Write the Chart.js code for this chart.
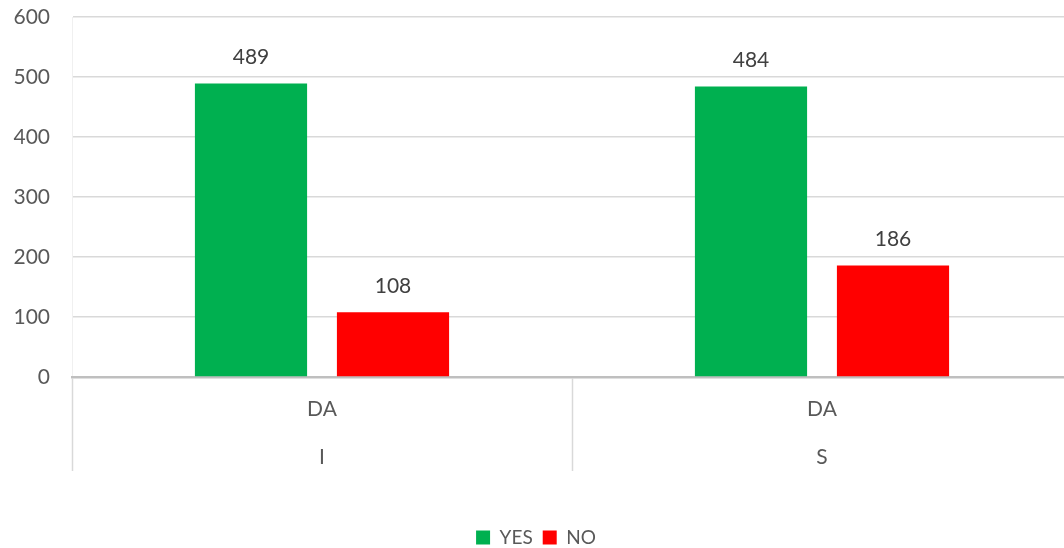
<!DOCTYPE html>
<html>
<head>
<meta charset="utf-8">
<script src="https://cdn.jsdelivr.net/npm/chart.js@4/dist/chart.umd.min.js"></script>
<style>
  html, body { margin: 0; padding: 0; background: #fff; overflow: hidden; }
  #wrap { width: 1072px; height: 548px; position: relative; }
</style>
</head>
<body>
<div id="wrap"><canvas id="chart"></canvas></div>
<script>
// chart values
const groups = [['DA', 'I'], ['DA', 'S']];
const yesValues = [489, 484];
const noValues = [108, 186];
const yTicks = [0, 100, 200, 300, 400, 500, 600];

const fontFam = "Lato, 'Open Sans', sans-serif";

// draws the number above each bar
const valueLabels = {
  id: 'valueLabels',
  afterDatasetsDraw(chart) {
    const ctx = chart.ctx;
    ctx.save();
    ctx.font = "21px " + fontFam;
    ctx.fillStyle = '#404040';
    ctx.textAlign = 'center';
    ctx.textBaseline = 'middle';
    chart.data.datasets.forEach((ds, i) => {
      chart.getDatasetMeta(i).data.forEach((bar, j) => {
        ctx.fillText(ds.data[j], bar.x, bar.y - 26);
      });
    });
    ctx.restore();
  }
};

// vertical separators between the category groups, below the axis
const groupLines = {
  id: 'groupLines',
  afterDraw(chart) {
    const x = chart.scales.x;
    const ctx = chart.ctx;
    const top = chart.chartArea.bottom + 1;
    ctx.save();
    ctx.strokeStyle = '#d9d9d9';
    ctx.lineWidth = 1.5;
    for (let i = 0; i <= chart.data.labels.length; i++) {
      const px = Math.round(x.getPixelForValue(i - 0.5)) + 0.5;
      ctx.beginPath();
      ctx.moveTo(px, top);
      ctx.lineTo(px, top + 93);
      ctx.stroke();
    }
    ctx.restore();
  }
};

new Chart(document.getElementById('chart'), {
  type: 'bar',
  data: {
    labels: groups,
    datasets: [
      { label: 'YES', data: yesValues, backgroundColor: '#00B050' },
      { label: 'NO', data: noValues, backgroundColor: '#FF0000' }
    ]
  },
  options: {
    responsive: true,
    maintainAspectRatio: false,
    animation: false,
    layout: { padding: { top: 17, left: 0, right: 0, bottom: -9 } },
    datasets: {
      bar: { categoryPercentage: 0.568, barPercentage: 0.79 }
    },
    scales: {
      y: {
        min: 0,
        max: 600,
        afterBuildTicks(axis) { axis.ticks = yTicks.map(v => ({ value: v })); },
        afterFit(axis) { axis.width = 72; axis.paddingTop = 0; axis.paddingBottom = 0; },
        grid: { color: '#d9d9d9', lineWidth: 1.5, drawTicks: false },
        border: { display: true, color: '#f0f0f0', width: 1 },
        ticks: { color: '#595959', padding: 22, font: { size: 21, family: fontFam } }
      },
      x: {
        offset: true,
        afterFit(axis) { axis.height = 141; },
        grid: { offset: true, drawOnChartArea: false, drawTicks: false },
        border: { display: true, color: '#bfbfbf', width: 2.5 },
        ticks: {
          color: '#595959',
          padding: 9,
          font: { size: 21, family: fontFam, lineHeight: 2.25 }
        }
      }
    },
    plugins: {
      legend: {
        position: 'bottom',
        labels: {
          color: '#595959',
          boxWidth: 14,
          boxHeight: 14,
          padding: 10,
          font: { size: 19, family: fontFam }
        }
      },
      tooltip: { enabled: false }
    }
  },
  plugins: [valueLabels, groupLines]
});
</script>
</body>
</html>
